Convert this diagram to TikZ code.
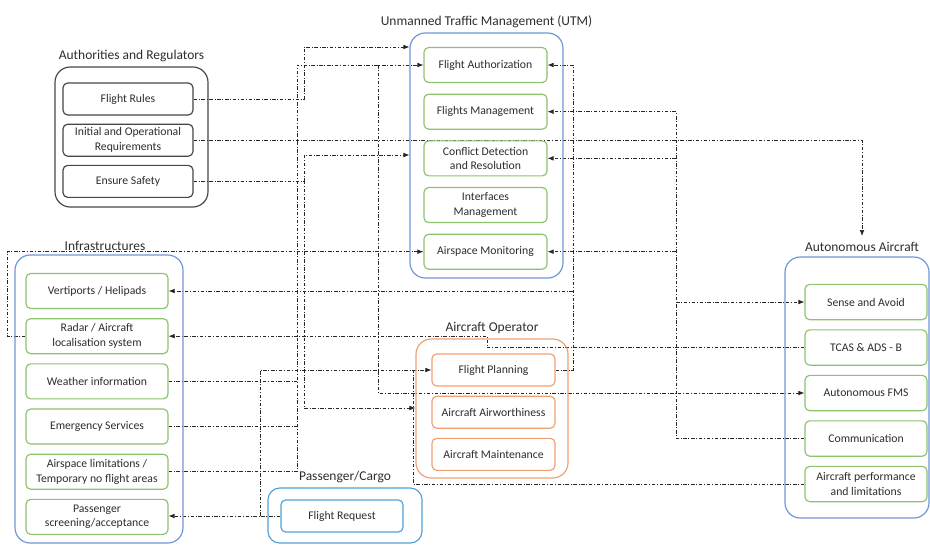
\documentclass[tikz,border=0pt]{standalone}
\usepackage{fontspec}
\setmainfont{Carlito}
\usetikzlibrary{arrows.meta,positioning,backgrounds}
\definecolor{grisborde}{RGB}{70,70,70}
\definecolor{azulgrupo}{RGB}{110,150,215}
\definecolor{verdecaja}{RGB}{140,195,110}
\definecolor{naranja}{RGB}{240,160,110}
\definecolor{celeste}{RGB}{80,160,215}
\definecolor{texto}{RGB}{45,45,45}
\tikzset{
  grupo/.style={
    rounded corners=13pt,
    line width=1pt,
    draw=azulgrupo
  },
  caja/.style={
    rounded corners=4pt,
    line width=1pt,
    draw=verdecaja,
    fill=white,
    align=center,
    minimum width=3.69cm,
    minimum height=1.05cm,
    inner sep=2pt,
    text=texto,
    font=\fontsize{10}{12.5}\selectfont
  },
  titulo/.style={
    text=texto,
    inner sep=2pt,
    font=\fontsize{11.5}{13}\selectfont
  },
  link/.style={
    draw=black!85,
    line width=.6pt,
    dash pattern=on 3pt off 1.5pt on .7pt off 1.5pt
  },
  arrow/.style={
    link,
    -{Latex[length=1.8mm,width=1.4mm]}
  }
}

\begin{document}
\begin{tikzpicture}[x=.03cm,y=-.03cm]
\useasboundingbox (0,0) rectangle (930,546);

% Authorities and Regulators
\node[caja, draw=grisborde, minimum width=3.9cm, minimum height=.96cm] (fr) at (128,99) {Flight Rules};
\node[caja, draw=grisborde, minimum width=3.9cm, minimum height=.96cm, below=.24cm of fr] (ior) {Initial and Operational\\Requirements};
\node[caja, draw=grisborde, minimum width=3.9cm, minimum height=.96cm, below=.24cm of ior] (saf) {Ensure Safety};
\node[grupo, draw=grisborde, minimum width=4.59cm, minimum height=4.2cm] (auth) at (131.5,137) {};
\node[titulo, above=2pt of auth] (autht) {Authorities and Regulators};

% UTM
\node[caja] (fa) at (485.5,65) {Flight Authorization};
\node[caja, below=.315cm of fa] (fm) {Flights Management};
\node[caja, below=.315cm of fm] (cdr) {Conflict Detection\\and Resolution};
\node[caja, below=.315cm of cdr] (im) {Interfaces\\Management};
\node[caja, below=.315cm of im] (am) {Airspace Monitoring};
\node[grupo, minimum width=4.59cm, minimum height=7.35cm] (utm) at (486.5,155.5) {};
\node[titulo, above=2pt of utm] (utmt) {Unmanned Traffic Management (UTM)};

% Infrastructures
\node[caja, minimum width=4.26cm] (vh) at (97,291) {Vertiports / Helipads};
\node[caja, minimum width=4.26cm, below=.27cm of vh] (ra) {Radar / Aircraft\\localisation system};
\node[caja, minimum width=4.26cm, below=.27cm of ra] (wi) {Weather information};
\node[caja, minimum width=4.26cm, below=.27cm of wi] (es) {Emergency Services};
\node[caja, minimum width=4.26cm, below=.27cm of es] (al) {Airspace limitations /\\Temporary no flight areas};
\node[caja, minimum width=4.26cm, below=.27cm of al] (ps) {Passenger\\screening/acceptance};
\node[grupo, minimum width=5.04cm, minimum height=8.64cm] (inf) at (99,399) {};
\node[titulo, above=1pt of inf, xshift=.18cm] (inft) {Infrastructures};

% Aircraft Operator
\node[caja, draw=naranja, minimum height=.96cm] (fp) at (493.5,370) {Flight Planning};
\node[caja, draw=naranja, minimum height=.96cm, below=.27cm of fp] (aw) {Aircraft Airworthiness};
\node[caja, draw=naranja, minimum height=.96cm, below=.27cm of aw] (mt) {Aircraft Maintenance};
\node[grupo, draw=naranja, minimum width=4.56cm, minimum height=4.17cm] (ao) at (492,408.5) {};
\node[titulo, above=2pt of ao] (aot) {Aircraft Operator};

% Passenger/Cargo
\node[caja, draw=celeste, minimum width=3.66cm, minimum height=.96cm] (frq) at (342,516) {Flight Request};
\node[grupo, draw=celeste, rounded corners=10pt, minimum width=4.62cm, minimum height=1.65cm] (pc) at (345,515.5) {};
\node[titulo, above=2pt of pc] (pct) {Passenger/Cargo};

% Autonomous Aircraft
\node[caja, minimum width=3.66cm, minimum height=1.06cm] (sa) at (866,302) {Sense and Avoid};
\node[caja, minimum width=3.66cm, minimum height=1.06cm, below=.27cm of sa] (tcas) {TCAS \& ADS - B};
\node[caja, minimum width=3.66cm, minimum height=1.06cm, below=.27cm of tcas] (fms) {Autonomous FMS};
\node[caja, minimum width=3.66cm, minimum height=1.06cm, below=.27cm of fms] (com) {Communication};
\node[caja, minimum width=3.66cm, minimum height=1.06cm, below=.27cm of com] (apl) {Aircraft performance\\and limitations};
\node[grupo, minimum width=4.32cm, minimum height=7.83cm] (aa) at (857,387.5) {};
\node[titulo, above=2pt of aa, xshift=.15cm] (aat) {Autonomous Aircraft};

% links
\begin{scope}[on background layer]
\coordinate (ta) at (297,0);
\coordinate (tb) at (304,0);
\coordinate (tc) at (378,0);
\coordinate (td) at (573,0);
\coordinate (te) at (676,0);
\coordinate (tg) at (7,0);
\coordinate (th) at (260,0);
\coordinate (ti) at (413,0);
\coordinate (tj) at (487,0);
\coordinate (ya) at (0,47);
\coordinate (yb) at (0,155);
\coordinate (yc) at (0,408);

\draw[arrow] (fr.east) -| (tb |- ya) -- (ya -| utm.west);
\draw[arrow] (al.east) -| (ta |- fa.west) -- (fa.west);
\draw[link] (wi.east) -- (wi.east -| ta);
\draw[link] (es.east) -- (es.east -| ta);
\draw[arrow] (saf.east) -| (tb |- yb) -- (yb -| utm.west);
\draw[arrow] (saf.east) -| (tb |- yc) -- (yc -| ao.west);
\draw[arrow, shorten >=3pt] (ior.east) -| (aat.north);
\draw[arrow] (tc |- fa.west) |- (fms.west);
\draw[arrow] (fp.east) -| (td |- fa.east) -- (fa.east);
\draw[arrow] (td |- vh.east) -- (vh.east);
\draw[arrow] (com.west) -| (te |- fm.east) -- (fm.east);
\draw[arrow] (te |- cdr.east) -- (cdr.east);
\draw[arrow] (te |- am.east) -- (am.east);
\draw[arrow] (te |- sa.west) -- (sa.west);
\draw[arrow] (tcas.west) -| (tj |- ra.east) -- (ra.east);
\draw[arrow] (ra.west) -| (tg |- am.west) -- (am.west);
\draw[arrow] (frq.west) -- (frq.west -| ps.east);
\draw[arrow] (frq.west -| th) |- (fp.west);
\draw[link] (apl.west) -| (ti |- fp.west);
\end{scope}
\end{tikzpicture}
\end{document}
